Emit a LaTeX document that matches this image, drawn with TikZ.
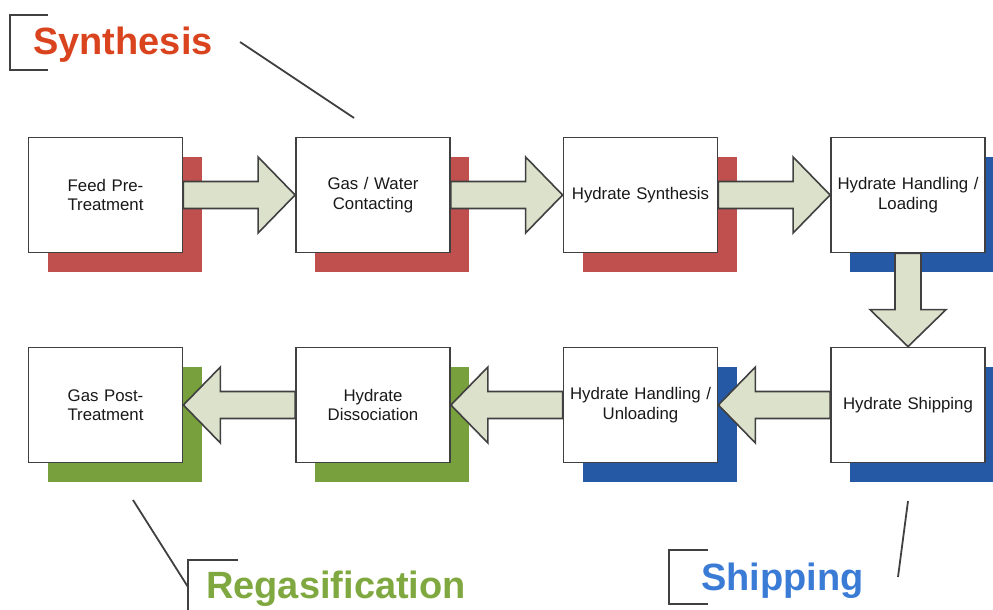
\documentclass[tikz,border=0pt]{standalone}
\usepackage{fontspec}
\setmainfont{Liberation Sans}
\usetikzlibrary{calc,shadows}
\definecolor{synthred}{HTML}{C0504D}
\definecolor{shipblue}{HTML}{2558A5}
\definecolor{regasgreen}{HTML}{78A03C}
\definecolor{synthtitle}{HTML}{D9431E}
\definecolor{shiptitle}{HTML}{3A7BD5}
\definecolor{regastitle}{HTML}{7FA840}
\definecolor{flowfill}{HTML}{DCE1CB}
\definecolor{boxline}{HTML}{404040}
\tikzset{
  stage/.style={draw=boxline, line width=1.8pt, fill=white, minimum width=154pt, minimum height=115pt,
    text width=146pt, align=center, text=black!90, font=\fontsize{16.8}{19.5}\selectfont},
  shadowed/.style={drop shadow={shadow xshift=19pt, shadow yshift=-19pt, fill=#1, opacity=1}},
  flow/.style={draw=boxline, line width=1.6pt, fill=flowfill, line join=miter},
  title/.style={anchor=base west, inner sep=0pt, font=\fontsize{38}{40}\selectfont\bfseries},
  leader/.style={draw=boxline, line width=1.8pt}
}
\newcommand{\flowright}[2]{\draw[flow] ($(#1.east)+(0,-13.5)$) -- ($(#2.west)+(-37,-13.5)$) -- ++(0,-24.5) -- (#2.west)
  -- ($(#2.west)+(-37,38)$) -- ++(0,-24.5) -- ($(#1.east)+(0,13.5)$) -- cycle;}
\newcommand{\flowleft}[2]{\draw[flow] ($(#1.west)+(0,-13.5)$) -- ($(#2.east)+(37,-13.5)$) -- ++(0,-24.5) -- (#2.east)
  -- ($(#2.east)+(37,38)$) -- ++(0,-24.5) -- ($(#1.west)+(0,13.5)$) -- cycle;}
\newcommand{\flowdown}[2]{\draw[flow] ($(#1.south)+(-13,0)$) -- ($(#2.north)+(-13,-37)$) -- ++(-25,0) -- (#2.north)
  -- ($(#2.north)+(38,-37)$) -- ++(-25,0) -- ($(#1.south)+(13,0)$) -- cycle;}
\begin{document}
\begin{tikzpicture}[x=1pt,y=-1pt]
  \useasboundingbox (0,0) rectangle (993,610);
  \node[stage,shadowed=synthred] (feed) at (105.5,195) {Feed Pre-\\Treatment};
  \node[stage,shadowed=synthred] (contact) at (373,195) {Gas / Water\\Contacting};
  \node[stage,shadowed=synthred] (synth) at (640.5,195) {Hydrate Synthesis};
  \node[stage,shadowed=shipblue] (load) at (908,195) {Hydrate Handling /\\Loading};
  \node[stage,shadowed=shipblue] (ship) at (908,405) {Hydrate Shipping};
  \node[stage,shadowed=shipblue] (unload) at (640.5,405) {Hydrate Handling /\\Unloading};
  \node[stage,shadowed=regasgreen] (dissoc) at (373,405) {Hydrate\\Dissociation};
  \node[stage,shadowed=regasgreen] (post) at (105.5,405) {Gas Post-\\Treatment};
  \flowright{feed}{contact}
  \flowright{contact}{synth}
  \flowright{synth}{load}
  \flowdown{load}{ship}
  \flowleft{ship}{unload}
  \flowleft{unload}{dissoc}
  \flowleft{dissoc}{post}
  \node[title,text=synthtitle] (synthlabel) at (33,55) {Synthesis};
  \node[title,text=shiptitle] (shiplabel) at (701,590) {Shipping};
  \node[title,text=regastitle] (regaslabel) at (206,598) {Regasification};
  \coordinate (synthtip) at (354,118);
  \coordinate (shiptip) at (908,501);
  \coordinate (regastip) at (133,500);
  \draw[leader] (48,15) -- (10,15) -- (10,70) -- (48,70);
  \draw[leader] (240,42) -- (synthtip);
  \draw[leader] (708,550) -- (669,550) -- (669,604) -- (708,604);
  \draw[leader] (898,577) -- (shiptip);
  \draw[leader] (238,560) -- (188,560) -- (188,615);
  \draw[leader] (188,587) -- (regastip);
\end{tikzpicture}
\end{document}
